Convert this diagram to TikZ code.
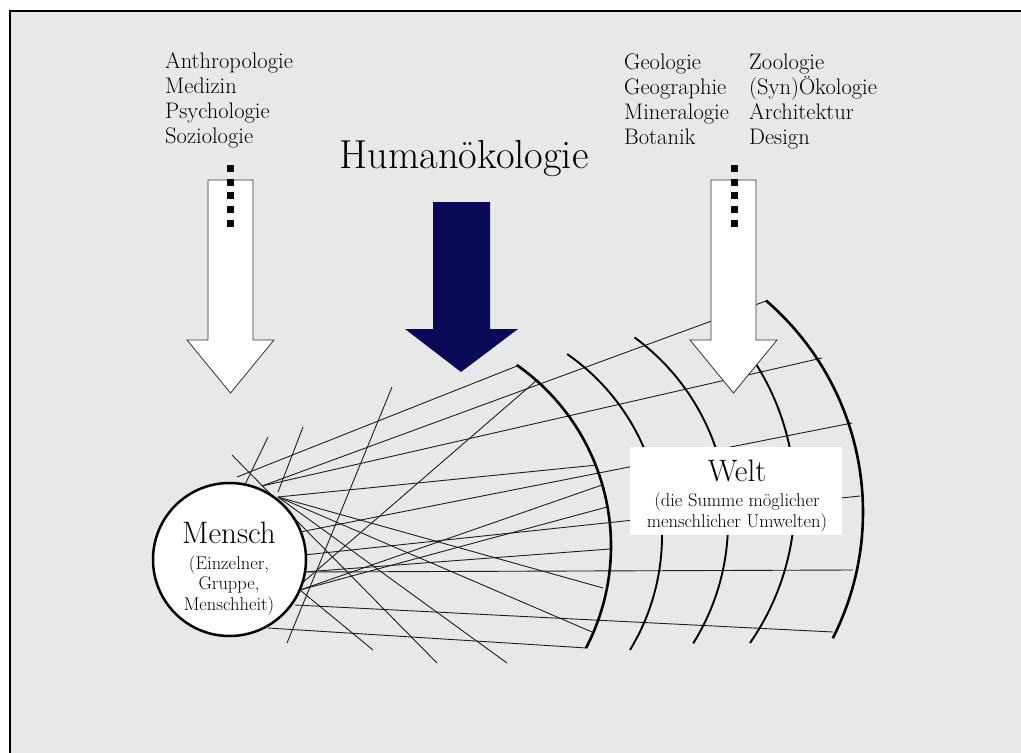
\documentclass[tikz,border=0pt]{standalone}
\usepackage{fontspec}
\newcommand{\setfs}[1]{\fontsize{#1}{#1}\selectfont}
\definecolor{bggray}{RGB}{232,232,232}
\definecolor{navyarrow}{RGB}{10,10,88}
\definecolor{linegray}{RGB}{30,30,30}
\begin{document}
\begin{tikzpicture}[x=1pt,y=-1pt,
  fanline/.style={draw=linegray, line width=0.9pt},
  arcthick/.style={draw=black, line width=2.6pt},
  arcmid/.style={draw=black, line width=1.9pt},
  whitearrow/.style={fill=white, draw=black!80, line width=0.8pt},
  dotsq/.style={fill=black},
  lab/.style={anchor=base west, inner sep=0pt, font=\setfs{22.5}},
  small/.style={anchor=base, inner sep=0pt, font=\setfs{18.5}},
  big/.style={anchor=base, inner sep=0pt, font=\setfs{31}},
]
\useasboundingbox (0,0) rectangle (1021,753);
\fill[white] (0,0) rectangle (1021,753);
\fill[bggray] (10,11) rectangle (1021,753);
\draw[line width=2pt] (10,753) -- (10,11) -- (1021,11);

% top labels
\node[lab] (a1) at (165,68) {Anthropologie};
\node[lab] (a2) at (165,93) {Medizin};
\node[lab] (a3) at (165,118) {Psychologie};
\node[lab] (a4) at (165,143) {Soziologie};
\node[lab] (g1) at (624,69) {Geologie};
\node[lab] (g2) at (624,94) {Geographie};
\node[lab] (g3) at (624,119) {Mineralogie};
\node[lab] (g4) at (624,144) {Botanik};
\node[lab] (z1) at (749,69) {Zoologie};
\node[lab] (z2) at (749,94) {(Syn)Ökologie};
\node[lab] (z3) at (749,119) {Architektur};
\node[lab] (z4) at (749,144) {Design};
\node[anchor=base, inner sep=0pt, font=\setfs{40.5}] (hum) at (464,168) {Humanökologie};

% blue arrow
\fill[navyarrow] (433,202) -- (490,202) -- (490,329) -- (518,329) -- (461,372) -- (405,329) -- (433,329) -- cycle;

% crossing lines
\draw[fanline] (268,437) -- (240,495);
\draw[fanline] (303,427) -- (278,492);
\draw[fanline] (392,387) -- (287,643);
\draw[fanline] (232,455) -- (437,663);
\draw[fanline] (293,591) -- (537,380);
\draw[fanline] (300,590) -- (373,650);

% fan lines
\draw[fanline] (237,477) -- (517,366);
\draw[fanline] (262,486) -- (766,301);
\draw[fanline] (262,486) -- (822,358);
\draw[fanline] (278,497) -- (597,465);
\draw[fanline] (278,497) -- (603,588);
\draw[fanline] (278,497) -- (592,632);
\draw[fanline] (278,497) -- (507,663);
\draw[fanline] (300,532) -- (852,423);
\draw[fanline] (304,555) -- (860,496);
\draw[fanline] (304,572) -- (610,549);
\draw[fanline] (300,590) -- (602,485);
\draw[fanline] (300,590) -- (607,507);
\draw[fanline] (304,572) -- (853,570);
\draw[fanline] (295,605) -- (833,632);
\draw[fanline] (268,628) -- (587,648);

% arcs
\draw[arcthick] (390,546) ++(-55:221) arc[start angle=-55, end angle=27.5, radius=221];
\draw[arcmid] (441,535.5) ++(-55.2:221) arc[start angle=-55.2, end angle=31.2, radius=221];
\draw[arcmid] (499,522) ++(-53.7:229) arc[start angle=-53.7, end angle=32, radius=229];
\draw[arcmid] (542,499) ++(-40:253) arc[start angle=-40, end angle=34.7, radius=253];
\draw[arcthick] (584,512) ++(-49.3:279) arc[start angle=-49.3, end angle=26.9, radius=279];

% Welt box
\node[fill=white, minimum width=212pt, minimum height=88pt, inner sep=0pt] (weltbox) at (736,491) {};
\node[big] (welt) at (737,481) {Welt};
\node[small] (w1) at (737,506) {(die Summe möglicher};
\node[small] (w2) at (737,527) {menschlicher Umwelten)};

% Mensch circle
\node[circle, draw=black, fill=white, line width=2.5pt, minimum size=153pt, inner sep=0pt] (mensch) at (229.5,559.5) {};
\node[big] (m0) at (229,543) {Mensch};
\node[small] (m1) at (229,569) {(Einzelner,};
\node[small] (m2) at (229,589) {Gruppe,};
\node[small] (m3) at (229,610) {Menschheit)};

% white arrows
\draw[whitearrow] (208,180) -- (253,180) -- (253,340) -- (274,340) -- (230.5,393) -- (187,340) -- (208,340) -- cycle;
\draw[whitearrow] (711,180) -- (756,180) -- (756,340) -- (777,340) -- (733.5,393) -- (690,340) -- (711,340) -- cycle;

% dotted marks
\foreach \yy in {168,182,195,209,223} {
  \fill[dotsq] (226.5,\yy-3.5) rectangle ++(7,7);
  \fill[dotsq] (730.5,\yy-3.5) rectangle ++(7,7);
}
\end{tikzpicture}
\end{document}
